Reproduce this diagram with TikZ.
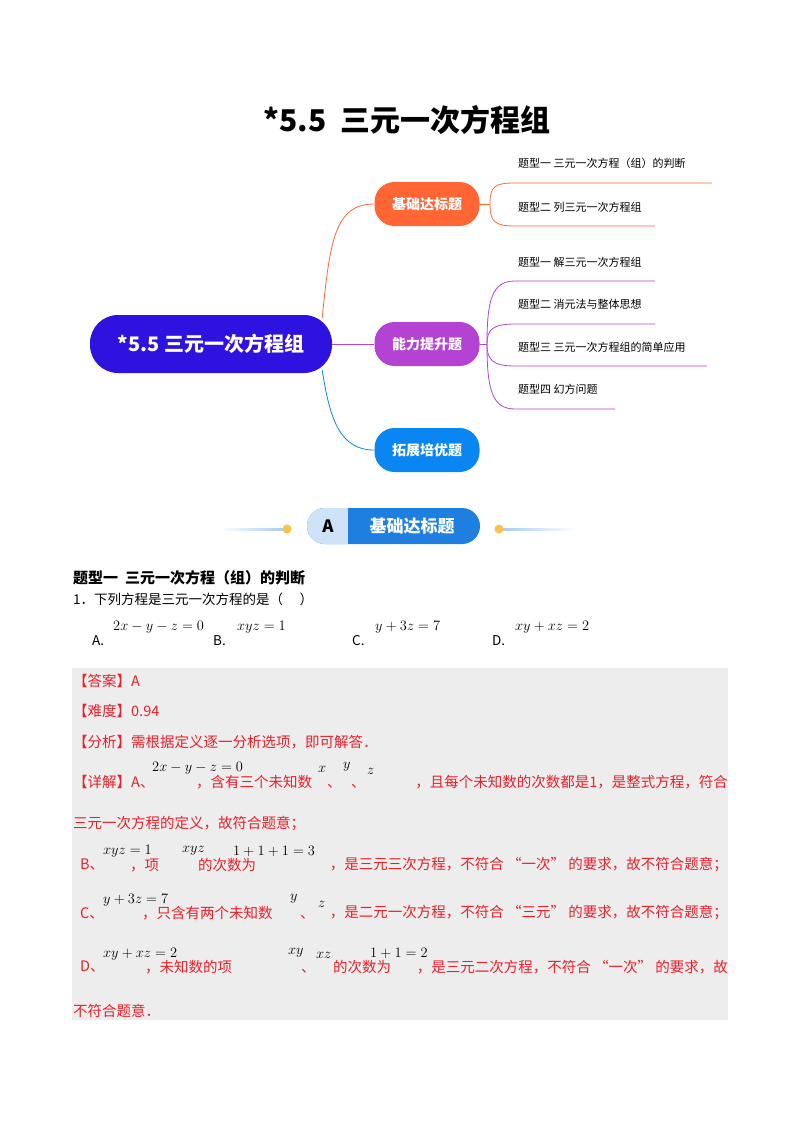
\documentclass[tikz,border=0pt]{standalone}
\usepackage{fontspec}
\setmainfont{Noto Sans CJK SC}
\definecolor{cmain}{HTML}{2E12E0}
\definecolor{corange}{HTML}{FF6633}
\definecolor{cpurple}{HTML}{B442D2}
\definecolor{cblue}{HTML}{0A86F2}
\definecolor{cred}{HTML}{E8202A}
\definecolor{cband}{HTML}{1E7FE0}
\definecolor{clight}{HTML}{CFE3F8}
\definecolor{cdot}{HTML}{FFC04D}
\begin{document}
\begin{tikzpicture}[x=1pt,y=-1pt,
  br/.style={rounded corners=20pt,minimum width=105pt,minimum height=44pt,text=white,font=\fontsize{14}{16}\selectfont\bfseries,inner sep=0pt},
  sub/.style={anchor=west,font=\fontsize{11}{13}\selectfont,inner sep=0pt},
  tx/.style={anchor=west,inner sep=0pt,font=\fontsize{13.5}{15}\selectfont},
  rt/.style={anchor=west,inner sep=0pt,text=cred,font=\fontsize{14.5}{16}\selectfont},
  rte/.style={anchor=east,inner sep=0pt,text=cred,font=\fontsize{14.5}{16}\selectfont},
  eq/.style={anchor=west,inner sep=0pt,font=\fontsize{15}{17}\selectfont},
  req/.style={anchor=west,inner sep=0pt,font=\fontsize{14.5}{16}\selectfont}]
\useasboundingbox (0,0) rectangle (800,1132);
\fill[white] (0,0) rectangle (800,1132);
\node[inner sep=0pt,font=\fontsize{30}{34}\selectfont\bfseries] (title) at (407,120) {*5.5\ \ 三元一次方程组};
% mind map
\node[fill=cmain,rounded corners=28pt,minimum width=242pt,minimum height=58pt,text=white,font=\fontsize{20}{24}\selectfont\bfseries,inner sep=0pt] (c) at (211,344) {*5.5 三元一次方程组};
\node[br,fill=corange] (b1) at (427,204) {基础达标题};
\node[br,fill=cpurple] (b2) at (427,344) {能力提升题};
\node[br,fill=cblue] (b3) at (427,450) {拓展培优题};
\draw[corange,thick] (c.north east)+(-10,3) .. controls (330,240) and (335,204) .. (b1.west);
\draw[cpurple,thick] (c.east) -- (b2.west);
\draw[cblue,thick] (c.south east)+(-10,-3) .. controls (330,420) and (340,450) .. (b3.west);
\coordinate (o1) at (490,204);
\draw[corange,thick] (b1.east) -- (o1);
\draw[corange,thick] (o1) .. controls (490,186) and (495,183) .. (515,183) -- (712,183);
\draw[corange,thick] (o1) .. controls (490,222) and (495,226) .. (515,226) -- (655,226);
\node[sub] (s1) at (518,163) {题型一 三元一次方程（组）的判断};
\node[sub] (s2) at (518,207) {题型二 列三元一次方程组};
\coordinate (o2) at (487,344);
\draw[cpurple,thick] (b2.east) -- (o2);
\foreach \yy/\xe in {281/655,324/655,366/707,409/615}{
 \draw[cpurple,thick] (o2) .. controls (487,{\yy+0.3*(344-\yy)}) and (492,\yy) .. (515,\yy) -- (\xe,\yy);}
\node[sub] (p1) at (518,262) {题型一 解三元一次方程组};
\node[sub] (p2) at (518,304) {题型二 消元法与整体思想};
\node[sub] (p3) at (518,347) {题型三 三元一次方程组的简单应用};
\node[sub] (p4) at (518,389) {题型四 幻方问题};
% banner
\shade[left color=white,right color=cband!40] (220,528) rectangle (285,530);
\shade[left color=cband!40,right color=white] (501,528) rectangle (575,530);
\fill[cdot] (287,529) circle (4.5);
\fill[cdot] (499,529) circle (4.5);
\fill[cband] (307,508) [rounded corners=18pt] rectangle (480,544);
\fill[clight,rounded corners=18pt] (307,508) rectangle (360,544);
\fill[clight] (335,508) rectangle (348,544);
\fill[cband] (348,508) rectangle (380,544);
\node[inner sep=0pt,font=\fontsize{17}{20}\selectfont\bfseries] (ba) at (328,526) {A};
\node[inner sep=0pt,text=white,font=\fontsize{17}{20}\selectfont\bfseries] (bt) at (412,526) {基础达标题};
% question
\node[anchor=west,inner sep=0pt,font=\fontsize{15}{18}\selectfont\bfseries] (h1) at (73,578) {题型一\ \ 三元一次方程（组）的判断};
\node[tx] (q) at (73,599) {1．下列方程是三元一次方程的是（\quad\ ）};
\node[tx] (qa) at (92,641) {A.}; \node[eq] (ea) at (113,627) {$2x-y-z=0$};
\node[tx] (qb) at (213,641) {B.}; \node[eq] (eb) at (237,627) {$xyz=1$};
\node[tx] (qc) at (352,641) {C.}; \node[eq] (ec) at (375,627) {$y+3z=7$};
\node[tx] (qd) at (492,641) {D.}; \node[eq] (ed) at (515,627) {$xy+xz=2$};
% answer box
\fill[black!7] (72,668) rectangle (728,1020);
\node[rt] (r1) at (73,681) {【答案】A};
\node[rt] (r2) at (73,711) {【难度】0.94};
\node[rt] (r3) at (73,742) {【分析】需根据定义逐一分析选项，即可解答．};
\node[rt] (r4) at (73,782) {【详解】A、};
\node[req] at (152,768) {$2x-y-z=0$};
\node[rt] at (196,782) {，含有三个未知数};
\node[req] at (318,769) {$x$}; \node[rt] at (327,786) {、};
\node[req] at (343,767) {$y$}; \node[rt] at (351,786) {、};
\node[req] at (367,771) {$z$};
\node[rte] at (728,782) {，且每个未知数的次数都是1，是整式方程，符合};
\node[rt] at (73,824) {三元一次方程的定义，故符合题意；};
\node[rt] at (80,865) {B、};
\node[req] at (103,851) {$xyz=1$};
\node[rt] at (130,865) {，项};
\node[req] at (182,851) {$xyz$};
\node[rt] at (198,865) {的次数为};
\node[req] at (233,851) {$1+1+1=3$};
\node[rte] at (728,865) {，是三元三次方程，不符合 “一次” 的要求，故不符合题意；};
\node[rt] at (80,913) {C、};
\node[req] at (103,900) {$y+3z=7$};
\node[rt] at (142,913) {，只含有两个未知数};
\node[req] at (290,899) {$y$}; \node[rt] at (300,917) {、};
\node[req] at (318,904) {$z$};
\node[rte] at (728,913) {，是二元一次方程，不符合 “三元” 的要求，故不符合题意；};
\node[rt] at (80,967) {D、};
\node[req] at (103,954) {$xy+xz=2$};
\node[rt] at (145,967) {，未知数的项};
\node[req] at (288,953) {$xy$}; \node[rt] at (301,971) {、};
\node[req] at (316,955) {$xz$};
\node[rt] at (333,967) {的次数为};
\node[req] at (370,953) {$1+1=2$};
\node[rte] at (728,967) {，是三元二次方程，不符合 “一次” 的要求，故};
\node[rt] at (73,1011) {不符合题意．};
\end{tikzpicture}
\end{document}
